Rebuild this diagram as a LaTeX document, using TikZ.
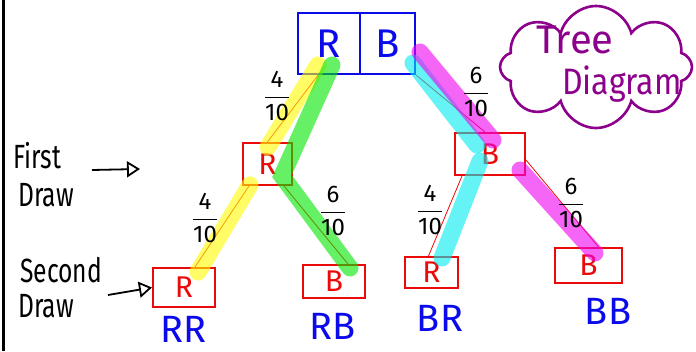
\documentclass[tikz,border=0pt]{standalone}
\usepackage{amsmath}
\usepackage{fontspec}
\setmainfont{Fira Sans}
\usetikzlibrary{shapes.symbols,arrows.meta}
\definecolor{inkblue}{RGB}{10,10,235}
\definecolor{inkred}{RGB}{235,10,10}
\definecolor{inkpurple}{RGB}{140,0,140}
\definecolor{hlyellow}{RGB}{255,250,0}
\definecolor{hlgreen}{RGB}{0,230,0}
\definecolor{hlcyan}{RGB}{0,235,240}
\definecolor{hlmagenta}{RGB}{240,0,240}
\newcommand\handtext[1]{\scalebox{0.88}[1.2]{#1}}
\begin{document}
\begin{tikzpicture}[x=1pt,y=-1pt,
  redbox/.style={draw=inkred, line width=2pt, text=inkred, inner sep=0pt,
    font=\fontsize{30}{30}\selectfont},
  topbox/.style={draw=inkblue, line width=2.4pt, text=inkblue, inner sep=0pt,
    minimum height=61pt, font=\fontsize{40}{40}\selectfont},
  outlbl/.style={text=inkblue, inner sep=0pt, font=\fontsize{38}{38}\selectfont},
  fr/.style={font=\fontsize{24}{24}\selectfont, inner sep=0pt},
  hl/.style={line width=17pt, line cap=round, opacity=0.6},
  branch/.style={draw=inkred, line width=0.8pt},
  side/.style={anchor=west, inner sep=0pt, font=\fontsize{28}{28}\selectfont},
  ptr/.style={line width=1.8pt, -{Triangle[open, length=13pt, width=16pt, line width=1.8pt]}}]
\fill[white] (0,0) rectangle (696,351);
\useasboundingbox (0,0) rectangle (696,351);
\draw[line width=3pt] (3,0) -- (3,351);

% nodes
\node[topbox, minimum width=62pt] (tr) at (329,43.5) {R};
\node[topbox, minimum width=55pt] (tb) at (387.5,43.5) {B};
\node[redbox, minimum width=49pt, minimum height=42pt] (r1) at (267.5,164) {R};
\node[redbox, minimum width=70pt, minimum height=42pt] (b1) at (490,154) {B};
\node[redbox, minimum width=62pt, minimum height=39pt] (rr) at (184,287.5) {R};
\node[redbox, minimum width=62pt, minimum height=33pt] (rb) at (334,281.5) {B};
\node[redbox, minimum width=53pt, minimum height=31pt] (br) at (431.5,272.5) {R};
\node[redbox, minimum width=67pt, minimum height=35pt] (bb) at (588.5,265.5) {B};

% branches
\draw[branch] ([xshift=-11pt]tr.south) -- (r1.north);
\draw[branch] (tb.south east) -- ([xshift=-5pt]b1.north);
\draw[branch] ([xshift=7pt]r1.south west) -- ([xshift=11pt]rr.north);
\draw[branch] ([xshift=-9pt]r1.south east) -- ([xshift=14pt]rb.north);
\draw[branch] ([xshift=8pt]b1.south west) -- ([xshift=-3pt]br.north);
\draw[branch] ([yshift=-6pt]b1.east) -- ([xshift=10pt]bb.north);

% highlights
\draw[hl, hlyellow] (318,65) -- (268,147);
\draw[hl, hlyellow] (250,185) -- (198,272);
\draw[hl, hlgreen] (332,65) -- (282,176) -- (350,268);
\draw[hl, hlcyan] (413,63) -- (477,145);
\draw[hl, hlcyan] (480,161) -- (442,258);
\draw[hl, hlmagenta] (420,52) -- (493,140);
\draw[hl, hlmagenta] (520,170) -- (595,253);

% fractions
\node[fr] (f1) at (277,96) {$\dfrac{\mbox{4}}{\mbox{10}}$};
\node[fr] (f2) at (476,92) {$\dfrac{\mbox{6}}{\mbox{10}}$};
\node[fr] (f3) at (205,218) {$\dfrac{\mbox{4}}{\mbox{10}}$};
\node[fr] (f4) at (333,211) {$\dfrac{\mbox{6}}{\mbox{10}}$};
\node[fr] (f5) at (430,210) {$\dfrac{\mbox{4}}{\mbox{10}}$};
\node[fr] (f6) at (571,203) {$\dfrac{\mbox{6}}{\mbox{10}}$};

% outcome labels
\node[outlbl] (lrr) at (183,329) {RR};
\node[outlbl] (lrb) at (333,326) {RB};
\node[outlbl] (lbr) at (440,318) {BR};
\node[outlbl] (lbb) at (608,311) {BB};

% side labels
\node[side] (first) at (13,156) {\handtext{First}};
\node[side] (firstb) at (18,195) {\handtext{Draw}};
\node[side] (second) at (20,270) {\handtext{Second}};
\node[side] (secondb) at (18,306) {\handtext{Draw}};
\coordinate (a1s) at (92,170);
\coordinate (a1e) at (140,169);
\draw[ptr] (a1s) -- (a1e);
\coordinate (a2s) at (108,295);
\draw[ptr] (a2s) -- (rr.west);

% cloud
\node[cloud, cloud puffs=8, aspect=1.6, draw=inkpurple, line width=2.6pt,
  minimum width=192pt, minimum height=122pt, inner sep=0pt] (cl) at (596,67) {};
\node[text=inkpurple, font=\fontsize{40}{40}\selectfont] (t1) at (575,40) {Tree};
\node[text=inkpurple, font=\fontsize{32}{32}\selectfont] (t2) at (622,84) {\scalebox{1}[1.15]{Diagram}};
\end{tikzpicture}
\end{document}
